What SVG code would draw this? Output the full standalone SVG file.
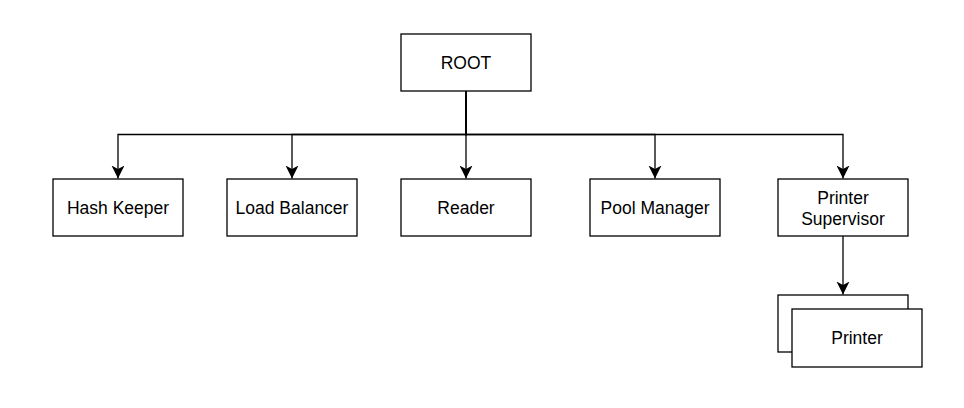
<svg xmlns="http://www.w3.org/2000/svg" width="964" height="408" viewBox="0 0 964 408">
<style>
.box{fill:#fff;stroke:#000;stroke-width:1.3}
.lbl{font-family:"Liberation Sans",Arial,sans-serif;font-size:17.5px;fill:#000;text-anchor:middle;dominant-baseline:central}
.edge{fill:none;stroke:#000;stroke-width:1.3}
</style>
<defs>
<marker id="arr" viewBox="0 0 14 14" refX="13" refY="7" markerWidth="14" markerHeight="14" markerUnits="userSpaceOnUse" orient="auto">
<path d="M0,0.5 L13,7 L0,13.5 L3.5,7 Z" fill="#000"/>
</marker>
</defs>
<rect width="964" height="408" fill="#fff"/>
<g id="connectors">
<path class="edge" d="M466,91 V134.5 H118 V178.5" marker-end="url(#arr)"/>
<path class="edge" d="M466,91 V134.5 H292 V178.5" marker-end="url(#arr)"/>
<path class="edge" d="M466,91 V178.5" marker-end="url(#arr)"/>
<path class="edge" d="M466,91 V134.5 H655 V178.5" marker-end="url(#arr)"/>
<path class="edge" d="M466,91 V134.5 H843 V178.5" marker-end="url(#arr)"/>
<path class="edge" d="M843,236 V294.5" marker-end="url(#arr)"/>
</g>
<g id="root"><rect class="box" x="401" y="34" width="130" height="57"/><text class="lbl" x="466" y="62.5">ROOT</text></g>
<g id="hash-keeper"><rect class="box" x="53" y="179" width="130" height="57"/><text class="lbl" x="118" y="207.5">Hash Keeper</text></g>
<g id="load-balancer"><rect class="box" x="227" y="179" width="130" height="57"/><text class="lbl" x="292" y="207.5">Load Balancer</text></g>
<g id="reader"><rect class="box" x="401" y="179" width="130" height="57"/><text class="lbl" x="466" y="207.5">Reader</text></g>
<g id="pool-manager"><rect class="box" x="590" y="179" width="130" height="57"/><text class="lbl" x="655" y="207.5">Pool Manager</text></g>
<g id="printer-supervisor"><rect class="box" x="778" y="179" width="130" height="57"/><text class="lbl" x="843" y="197.5">Printer</text><text class="lbl" x="843" y="219">Supervisor</text></g>
<g id="printer"><rect class="box" x="778" y="295" width="130" height="57"/><rect class="box" x="792" y="309" width="130" height="58"/><text class="lbl" x="857" y="337.5">Printer</text></g>
</svg>
